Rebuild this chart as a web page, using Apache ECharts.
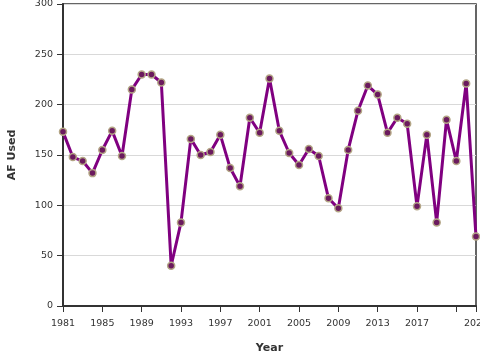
<!DOCTYPE html>
<html>
<head>
<meta charset="utf-8">
<script src="https://cdn.jsdelivr.net/npm/echarts@6/dist/echarts.min.js"></script>
<style>
html,body{margin:0;padding:0;background:#fff;}
#c{width:480px;height:360px;}
</style>
</head>
<body>
<div id="c"></div>
<script>
const years = [1981,1982,1983,1984,1985,1986,1987,1988,1989,1990,1991,1992,1993,1994,1995,1996,1997,1998,1999,2000,2001,2002,2003,2004,2005,2006,2007,2008,2009,2010,2011,2012,2013,2014,2015,2016,2017,2018,2019,2020,2021,2022,2023];
const afUsed = [173,148,144,132,155,174,149,215,230,230,222,40,83,166,150,153,170,137,119,187,172,226,174,152,140,156,149,107,97,155,194,219,210,172,187,181,99,170,83,185,144,221,69];
const yTicks = [0,50,100,150,200,250,300];

const chart = echarts.init(document.getElementById('c'), null, {renderer:'canvas'});
const font = 'DejaVu Sans';
chart.setOption({
  animation:false,
  grid:{left:63,right:4,top:4,bottom:54,containLabel:false,outerBoundsMode:'none',show:true,borderColor:'#333',borderWidth:1.5,backgroundColor:'transparent'},
  xAxis:{
    type:'value', min:1981, max:2023, interval:4,
    name:'Year', nameLocation:'middle', nameGap:37,
    nameTextStyle:{fontFamily:font,fontWeight:'bold',fontSize:11,color:'#333'},
    axisLine:{show:true,lineStyle:{color:'#333',width:2}},
    axisTick:{show:true,length:6,lineStyle:{color:'#333',width:1}},
    axisLabel:{fontFamily:font,fontSize:9.5,color:'#333',margin:13,showMinLabel:true,showMaxLabel:true,hideOverlap:false,
      formatter:function(v){return v===2021?'':String(v);}},
    splitLine:{show:false}
  },
  yAxis:{
    type:'value', min:yTicks[0], max:yTicks[yTicks.length-1], interval:50,
    name:'AF Used', nameLocation:'middle', nameGap:45, nameRotate:90,
    nameTextStyle:{fontFamily:font,fontWeight:'bold',fontSize:11,color:'#333'},
    axisLine:{show:true,lineStyle:{color:'#333',width:2}},
    axisTick:{show:true,length:6,lineStyle:{color:'#333',width:1}},
    axisLabel:{fontFamily:font,fontSize:9.5,color:'#333',margin:10},
    splitLine:{show:true,lineStyle:{color:'#d9d9d9',width:1}}
  },
  series:[{
    type:'line',
    data:years.map((y,i)=>[y,afUsed[i]]),
    lineStyle:{color:'#800080',width:3},
    symbol:'circle', symbolSize:7,
    itemStyle:{color:'#6b1a5e',borderColor:'#b3a585',borderWidth:1.5},
    clip:false, z:3
  }]
});
</script>
</body>
</html>
